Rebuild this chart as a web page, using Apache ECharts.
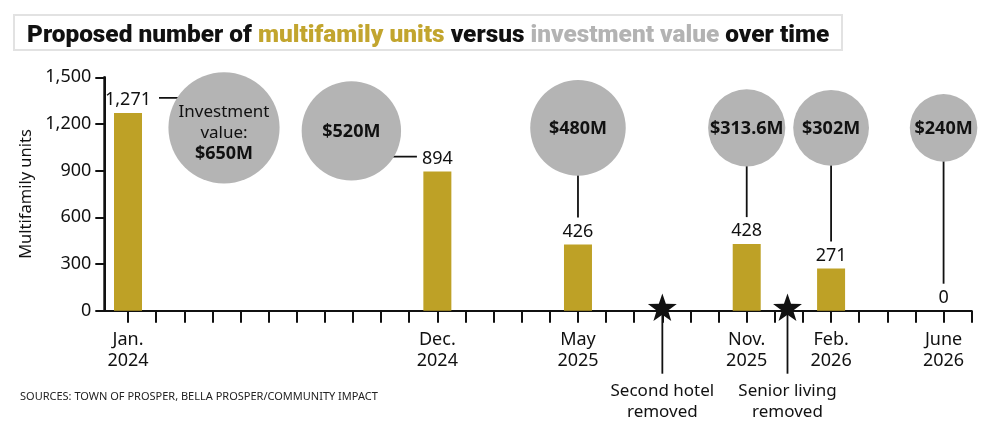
<!DOCTYPE html>
<html>
<head>
<meta charset="utf-8">
<script src="https://cdn.jsdelivr.net/npm/echarts@6/dist/echarts.min.js"></script>
<style>
  html, body { margin: 0; padding: 0; background: #fff; }
  #chart { width: 1001px; height: 434px; }
</style>
</head>
<body>
<div id="chart"></div>
<script>
// ---- Data (months counted from Jan. 2024 = 0) ----
const monthTicks = [0,1,2,3,4,5,6,7,8,9,10,11,12,13,14,15,16,17,18,19,20,21,22,23,24,25,26,27,28,29,30];
const labelMonths = [0, 11, 16, 22, 25, 29];
const tickLabels = ['Jan.\n2024', 'Dec.\n2024', 'May\n2025', 'Nov.\n2025', 'Feb.\n2026', 'June\n2026'];
const units = [1271, 894, 426, 428, 271, 0];
const investment = [650, 520, 480, 313.6, 302, 240];
const investmentLabels = ['$650M', '$520M', '$480M', '$313.6M', '$302M', '$240M'];
const eventMonths = [19, 23.45];
const eventLabels = ['Second hotel\nremoved', 'Senior living\nremoved'];
const yTicks = [0, 300, 600, 900, 1200, 1500];

// ---- Layout / style constants ----
const GOLD = '#bea126';
const GREY = '#b4b4b4';
const INK = '#111';
const FONT = '"Noto Sans", "Open Sans", sans-serif';
const X_MIN = -0.843, X_MAX = 30;
const Y_MIN = yTicks[0], Y_MAX = yTicks[yTicks.length - 1];
const BUBBLE_LEVEL = 1175;                // vertical placement of bubbles (in axis units)
const bubbleShift = [[96, 0], [-86, 3], [0, 0], [0, 0], [0, 0], [0, 0]]; // px nudges to avoid overlap
const fmt = v => v.toLocaleString('en-US');

const barData = labelMonths.map((m, i) => [m, units[i]]);
const bubbleData = labelMonths.map((m, i) => [m, units[i], investment[i]]);
const eventData = eventMonths.map(m => [m, 0]);

const measureCtx = document.createElement('canvas').getContext('2d');
function textWidth(t, size, weight) {
  measureCtx.font = (weight || 'normal') + ' ' + size + 'px ' + FONT;
  return measureCtx.measureText(t).width;
}

function renderBubble(params, api) {
  const i = params.dataIndex;
  const m = api.value(0), u = api.value(1), inv = api.value(2);
  const base = api.coord([m, BUBBLE_LEVEL]);
  const sh = bubbleShift[i];
  const cx = base[0] + sh[0], cy = base[1] + sh[1];
  const r = 2.18 * Math.sqrt(inv);
  const top = api.coord([m, u]);
  const children = [];
  if (sh[0] === 0) {
    children.push({ type: 'line', shape: { x1: cx, y1: cy + r - 1, x2: cx, y2: top[1] - 27 },
      style: { stroke: INK, lineWidth: 1.8 } });
  } else {
    const half = textWidth(fmt(u), 18) / 2;
    const ly = top[1] - 15;
    const lx = sh[0] > 0 ? top[0] + half + 8 : top[0] - half - 5;
    children.push({ type: 'line', shape: { x1: lx, y1: ly, x2: cx, y2: ly },
      style: { stroke: INK, lineWidth: 1.8 } });
  }
  children.push({ type: 'circle', shape: { cx: cx, cy: cy, r: r }, style: { fill: GREY } });
  const isFirst = i === 0;
  children.push({
    type: 'text',
    style: {
      text: isFirst ? '{n|Investment}\n{n|value:}\n{b|' + investmentLabels[i] + '}' : '{b|' + investmentLabels[i] + '}',
      x: cx, y: cy + (isFirst ? 5 : 1),
      align: 'center', verticalAlign: 'middle',
      textAlign: 'center', textVerticalAlign: 'middle',
      rich: {
        n: { fontFamily: FONT, fontSize: 17, color: INK, lineHeight: 21, fill: INK },
        b: { fontFamily: FONT, fontSize: 18, fontWeight: 'bold', color: INK, lineHeight: 21, fill: INK }
      }
    }
  });
  return { type: 'group', children: children };
}

function renderEvent(params, api) {
  const i = params.dataIndex;
  const p = api.coord([api.value(0), api.value(1)]);
  const cx = p[0], cy = p[1] - 2;
  const R = 15.2, r = 6.0;
  const pts = [];
  for (let k = 0; k < 10; k++) {
    const ang = -Math.PI / 2 + k * Math.PI / 5;
    const rad = k % 2 === 0 ? R : r;
    pts.push([cx + rad * Math.cos(ang), cy + rad * Math.sin(ang)]);
  }
  return {
    type: 'group',
    children: [
      { type: 'line', shape: { x1: cx, y1: cy, x2: cx, y2: p[1] + 63 }, style: { stroke: INK, lineWidth: 1.8 } },
      { type: 'polygon', shape: { points: pts }, style: { fill: INK } },
      { type: 'text', style: {
          text: eventLabels[i], x: cx, y: p[1] + 70,
          align: 'center', verticalAlign: 'top', textAlign: 'center', textVerticalAlign: 'top',
          fontFamily: FONT, fontSize: 17, lineHeight: 21, fill: INK } }
    ]
  };
}

// left vertical rule of the plot, drawn through the axes' scales
function renderAxisRule(params, api) {
  const a = api.coord([X_MIN, Y_MIN]);
  const b = api.coord([X_MIN, Y_MAX]);
  return { type: 'line', shape: { x1: a[0], y1: a[1] + 1, x2: b[0], y2: b[1] - 1 },
    style: { stroke: INK, lineWidth: 2 } };
}

const chart = echarts.init(document.getElementById('chart'), null, { renderer: 'canvas' });
chart.setOption({
  animation: false,
  backgroundColor: '#fff',
  title: {
    left: 14, top: 14,
    padding: [9, 13, 2, 13],
    borderColor: '#e2e2e2', borderWidth: 2,
    text: '{a|Proposed number of }{g|multifamily units}{a| versus }{s|investment value}{a| over time}',
    textStyle: {
      rich: {
        a: { fontFamily: 'Roboto, sans-serif', fontWeight: 900, fontSize: 24.4, color: INK, lineHeight: 26 },
        g: { fontFamily: 'Roboto, sans-serif', fontWeight: 900, fontSize: 24.4, color: '#c2a52e', lineHeight: 26 },
        s: { fontFamily: 'Roboto, sans-serif', fontWeight: 900, fontSize: 24.4, color: '#b3b3b3', lineHeight: 26 }
      }
    }
  },
  graphic: [{
    type: 'text', left: 20, top: 391,
    style: { text: 'SOURCES: TOWN OF PROSPER, BELLA PROSPER/COMMUNITY IMPACT',
      fontFamily: FONT, fontSize: 11, fill: '#222' }
  }],
  grid: { left: 104.3, right: 29.3, top: 77.3, bottom: 123.3, outerBoundsMode: 'none' },
  xAxis: {
    type: 'value', min: X_MIN, max: X_MAX,
    splitLine: { show: false },
    axisLine: { show: true, onZero: false, lineStyle: { color: INK, width: 2 } },
    axisTick: { show: true, customValues: monthTicks, length: 12, lineStyle: { color: INK, width: 2 } },
    axisLabel: {
      customValues: labelMonths,
      formatter: v => tickLabels[labelMonths.indexOf(Math.round(v))] || '',
      fontFamily: FONT, fontSize: 18, color: INK, lineHeight: 21, margin: 19
    }
  },
  yAxis: {
    type: 'value', min: Y_MIN, max: Y_MAX, interval: 300, position: 'left', z: 10,
    name: 'Multifamily units', nameLocation: 'middle', nameGap: 67, nameRotate: 90,
    nameTextStyle: { fontFamily: FONT, fontSize: 16.5, color: INK },
    splitLine: { show: false },
    axisLine: { show: true, onZero: false, lineStyle: { color: INK, width: 2 } },
    axisTick: { show: true, length: 9, lineStyle: { color: INK, width: 2 } },
    axisLabel: { fontFamily: FONT, fontSize: 18, color: INK, margin: 13, formatter: v => fmt(v) }
  },
  series: [
    {
      type: 'bar', data: barData, barWidth: 28,
      itemStyle: { color: GOLD },
      label: { show: true, position: 'top', distance: 4, fontFamily: FONT, fontSize: 18, color: INK,
        formatter: p => fmt(p.value[1]) },
      z: 2
    },
    { type: 'custom', data: bubbleData, renderItem: renderBubble, clip: false, z: 3 },
    { type: 'custom', data: eventData, renderItem: renderEvent, clip: false, z: 4 },
    { type: 'custom', data: [[X_MIN, Y_MIN]], renderItem: renderAxisRule, clip: false, silent: true, z: 10 }
  ]
});
</script>
</body>
</html>
